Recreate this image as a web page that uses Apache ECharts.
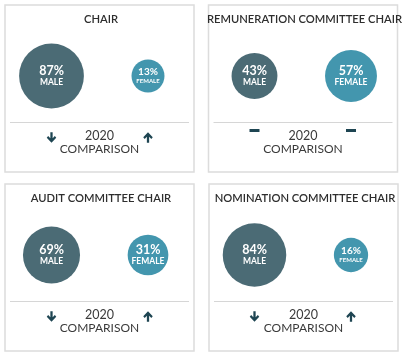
<!DOCTYPE html>
<html><head><meta charset="utf-8">
<script src="https://cdn.jsdelivr.net/npm/echarts@6/dist/echarts.min.js"></script>
<style>html,body{margin:0;padding:0;background:#fff}#c{width:406px;height:356px}</style>
</head><body><div id="c"></div>
<script>
// ---- data ----
const panelTitles = ['CHAIR', 'REMUNERATION COMMITTEE CHAIR', 'AUDIT COMMITTEE CHAIR', 'NOMINATION COMMITTEE CHAIR'];
const genders = ['MALE', 'FEMALE'];
const malePct = [87, 43, 69, 84];
const femalePct = [13, 57, 31, 16];
const maleTrend = ['down', 'flat', 'down', 'down'];
const femaleTrend = ['up', 'flat', 'up', 'up'];
const comparisonYear = '2020';
const comparisonWord = 'COMPARISON';

// ---- layout / style ----
const FONT = 'Lato, "Noto Sans", sans-serif';
const maleColor = '#4b6b75';
const femaleColor = '#4396ae';
const arrowColor = '#1e4552';
const panels = [
  {x: 5, y: 5, w: 189, h: 167, c1: 51.5},
  {x: 208.5, y: 5, w: 189, h: 167, c1: 254.5},
  {x: 5, y: 184, w: 189, h: 167, c1: 51.5},
  {x: 209, y: 184, w: 189, h: 167, c1: 254.5}
];
const SPACING = 96.5;
const CIRCLE_Y = 71, ARROW_Y = 132.5, DASH_Y = 125.5;
const diam = v => 27.4 + 0.43 * v;
const arrowPath = 'path://M3.3,0H5.7V6L8,3.8L9.5,5.3L4.5,10.3L-0.5,5.3L1,3.8L3.3,6Z';

const grids = [], xAxes = [], yAxes = [], series = [], graphics = [];
panels.forEach((p, i) => {
  grids.push({left: p.c1 - SPACING / 2, width: SPACING * 2, top: p.y, height: p.h});
  xAxes.push({type: 'category', data: genders, gridIndex: i, show: false, boundaryGap: true});
  yAxes.push({type: 'value', min: 0, max: p.h, inverse: true, gridIndex: i, show: false});
  const vals = [malePct[i], femalePct[i]];
  series.push({
    type: 'scatter', xAxisIndex: i, yAxisIndex: i, silent: true, clip: false,
    data: vals.map((v, j) => {
      const d = diam(v);
      const big = d >= 38;
      return {
        value: [genders[j], CIRCLE_Y],
        symbolSize: d,
        itemStyle: {color: j === 0 ? maleColor : femaleColor, opacity: 1},
        label: {
          show: true, position: 'inside',
          formatter: '{p|' + v + '%}\n{g|' + genders[j] + '}',
          rich: {
            p: {fontFamily: FONT, fontWeight: 'bold', color: '#fff', fontSize: big ? 12.5 : 10, lineHeight: big ? 13 : 10},
            g: {fontFamily: FONT, fontWeight: 'bold', color: '#fff', fontSize: big ? 8.5 : 6, lineHeight: big ? 10 : 8}
          }
        }
      };
    })
  });
  const trends = [maleTrend[i], femaleTrend[i]];
  series.push({
    type: 'scatter', xAxisIndex: i, yAxisIndex: i, silent: true, clip: false,
    data: trends.map((t, j) => t === 'flat'
      ? {value: [genders[j], DASH_Y], symbol: 'rect', symbolSize: [10, 3]}
      : {value: [genders[j], ARROW_Y], symbol: arrowPath, symbolSize: [9.5, 10.5], symbolRotate: t === 'up' ? 180 : 0}),
    itemStyle: {color: arrowColor, opacity: 1}
  });
  const cx = p.x + p.w / 2 + 1.5;
  graphics.push(
    {type: 'rect', shape: {x: p.x, y: p.y, width: p.w, height: p.h}, style: {fill: '#fff', stroke: '#dcdcdc', lineWidth: 1.5}, z: -10, silent: true},
    {type: 'text', x: cx, y: p.y + 14, style: {text: panelTitles[i], fill: '#2e2e2e', font: '600 11.2px ' + FONT, textAlign: 'center', textVerticalAlign: 'middle'}, silent: true},
    {type: 'line', shape: {x1: p.x + 5, y1: p.y + 117.5, x2: p.x + p.w - 5, y2: p.y + 117.5}, style: {stroke: '#d6d6d6', lineWidth: 1}, silent: true},
    {type: 'text', x: p.x + p.w / 2, y: p.y + 130.5, style: {text: comparisonYear, fill: '#3a3a3a', font: '12.5px ' + FONT, textAlign: 'center', textVerticalAlign: 'middle'}, silent: true},
    {type: 'text', x: p.x + p.w / 2, y: p.y + 144, style: {text: comparisonWord, fill: '#3a3a3a', font: '12px ' + FONT, textAlign: 'center', textVerticalAlign: 'middle'}, silent: true}
  );
});

const chart = echarts.init(document.getElementById('c'), null, {renderer: 'canvas'});
chart.setOption({
  animation: false,
  backgroundColor: '#fff',
  grid: grids, xAxis: xAxes, yAxis: yAxes, series: series,
  graphic: graphics
});
</script></body></html>
